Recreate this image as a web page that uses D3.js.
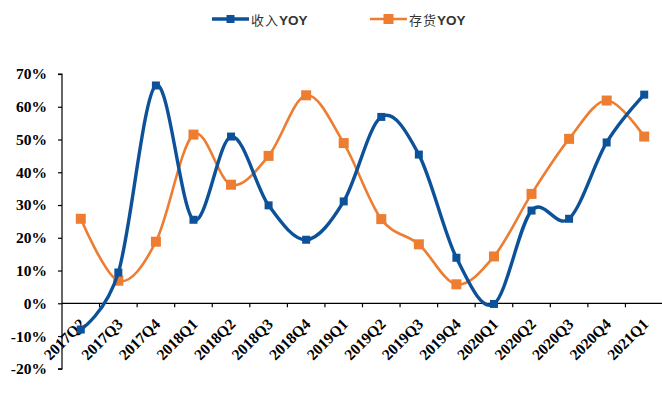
<!DOCTYPE html>
<html>
<head>
<meta charset="utf-8">
<script src="https://cdn.jsdelivr.net/npm/d3@7/dist/d3.min.js"></script>
<style>
  html, body { margin: 0; padding: 0; background: #fff; }
  svg { display: block; }
</style>
</head>
<body>
<svg id="chart" width="662" height="401"></svg>
<script>
// Quarterly categories
const quarters = ["2017Q2","2017Q3","2017Q4","2018Q1","2018Q2","2018Q3","2018Q4",
  "2019Q1","2019Q2","2019Q3","2019Q4","2020Q1","2020Q2","2020Q3","2020Q4","2021Q1"];
// 收入YOY (%)
const revenueYoY = [-8.0, 9.4, 66.5, 25.5, 50.9, 29.9, 19.4, 31.1, 56.9, 45.4, 13.9, -0.2, 28.3, 25.8, 49.1, 63.7];
// 存货YOY (%)
const inventoryYoY = [25.8, 6.9, 18.8, 51.5, 36.2, 45.0, 63.5, 48.9, 25.7, 18.0, 5.8, 14.3, 33.4, 50.2, 61.9, 50.9];
// Y axis ticks (%)
const yTicks = [-20, -10, 0, 10, 20, 30, 40, 50, 60, 70];
// Legend entries: Chinese name + suffix
const seriesNames = [["收入", "YOY"], ["存货", "YOY"]];

const colors = { rev: "#0d5299", inv: "#ed7d31" };

const svg = d3.select("#chart");
const plot = { left: 62, right: 663, top: 74, bottom: 368.8 };

const x = d3.scaleBand().domain(quarters).range([plot.left, plot.right]);
const y = d3.scaleLinear().domain([-20, 70]).range([plot.bottom, plot.top]);

const serif = "'Liberation Serif', 'Times New Roman', serif";

// Y axis
const yAxis = d3.axisLeft(y).tickValues(yTicks).tickSize(4).tickFormat(d => d + "%");
const gy = svg.append("g").attr("transform", `translate(${plot.left},0)`).call(yAxis);
gy.select(".domain").attr("stroke", "#000").attr("stroke-width", 1.2).attr("d", `M-4,${y(70)}H0V${y(-20)}H-4`);
gy.selectAll(".tick line").attr("stroke", "#000").attr("stroke-width", 1.2);
gy.selectAll(".tick text")
  .attr("x", -15)
  .attr("font-family", serif)
  .attr("font-weight", "bold")
  .attr("font-size", 15.5)
  .attr("fill", "#000");

// X axis on the zero line
const xAxis = d3.axisBottom(x).tickSize(0).tickFormat("");
const gx = svg.append("g").attr("transform", `translate(0,${y(0)})`).call(xAxis);
gx.select(".domain").attr("stroke", "#000").attr("stroke-width", 1.2).attr("d", `M${plot.left},0H${plot.right}`);
// tick marks at band boundaries
const bounds = quarters.map(q => x(q));
gx.selectAll(".bound").data(bounds.slice(1)).join("line")
  .attr("x1", d => d).attr("x2", d => d).attr("y1", 0).attr("y2", 4)
  .attr("stroke", "#000").attr("stroke-width", 1.2);

// Category labels, rotated
svg.append("g").selectAll("text").data(quarters).join("text")
  .attr("transform", d => `translate(${x(d) + x.bandwidth() / 2 + 1.5},${y(0) + 18}) rotate(-45)`)
  .attr("text-anchor", "end")
  .attr("dy", "0.35em")
  .attr("font-family", serif)
  .attr("font-weight", "bold")
  .attr("font-size", 15.5)
  .attr("fill", "#000")
  .text(d => d);

const cx = d => x(d) + x.bandwidth() / 2;
const line = d3.line().curve(d3.curveCardinal.tension(0));

function drawSeries(values, color, width, marker) {
  const pts = quarters.map((q, i) => [cx(q), y(values[i])]);
  svg.append("path").attr("d", line(pts)).attr("fill", "none")
    .attr("stroke", color).attr("stroke-width", width);
  svg.append("g").selectAll("rect").data(pts).join("rect")
    .attr("x", d => d[0] - marker / 2).attr("y", d => d[1] - marker / 2)
    .attr("width", marker).attr("height", marker).attr("fill", color);
}

drawSeries(inventoryYoY, colors.inv, 2.6, 10);
drawSeries(revenueYoY, colors.rev, 3.4, 8);

// Legend
const legend = [
  { name: seriesNames[0], color: colors.rev, x0: 212, w: 3.4, m: 8 },
  { name: seriesNames[1], color: colors.inv, x0: 370, w: 2.6, m: 10 }
];
const lg = svg.append("g");
legend.forEach(d => {
  lg.append("line").attr("x1", d.x0).attr("x2", d.x0 + 37).attr("y1", 19).attr("y2", 19)
    .attr("stroke", d.color).attr("stroke-width", d.w);
  lg.append("rect").attr("x", d.x0 + 18.5 - d.m / 2).attr("y", 19 - d.m / 2)
    .attr("width", d.m).attr("height", d.m).attr("fill", d.color);
  const t = lg.append("text").attr("x", d.x0 + 39).attr("y", 19).attr("dy", "0.38em")
    .attr("fill", "#333");
  t.append("tspan")
    .attr("font-family", "'Noto Sans CJK SC', sans-serif")
    .attr("font-size", 13).attr("font-weight", "normal")
    .attr("letter-spacing", 1)
    .text(d.name[0]);
  t.append("tspan")
    .attr("font-family", "'Liberation Sans Narrow', 'Liberation Sans', sans-serif")
    .attr("font-size", 13.5).attr("font-weight", "bold")
    .text(d.name[1]);
});
</script>
</body>
</html>
